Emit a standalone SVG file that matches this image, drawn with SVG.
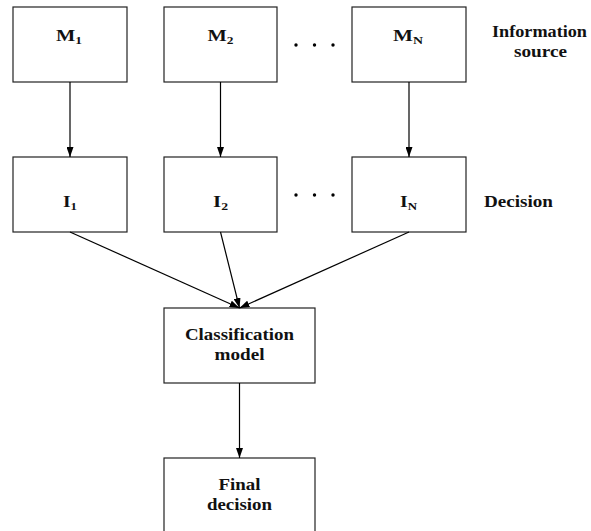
<svg xmlns="http://www.w3.org/2000/svg" width="591" height="531" viewBox="0 0 591 531">
  <style>
    .box { fill: #fff; stroke: #222; stroke-width: 1.2; }
    .lbl { font-family: 'Liberation Serif', 'DejaVu Serif', serif; font-weight: bold; font-size: 16px; fill: #111; text-anchor: middle; }
    .sub { font-size: 10.5px; }
    .edge { stroke: #000; stroke-width: 1.2; fill: none; marker-end: url(#arrow); }
    .dot { fill: #000; }
  </style>
  <defs>
    <marker id="arrow" markerUnits="userSpaceOnUse" markerWidth="10" markerHeight="7" refX="10" refY="3.5" orient="auto">
      <path d="M0,0 L10,3.5 L0,7 z" fill="#000"/>
    </marker>
  </defs>

  <rect x="0" y="0" width="591" height="531" fill="#fff"/>

  <!-- information sources -->
  <g id="m1">
    <rect class="box" x="13" y="7" width="114" height="75"/>
    <text class="lbl" x="69" y="41" textLength="26" lengthAdjust="spacingAndGlyphs">M<tspan class="sub" dy="3">1</tspan></text>
  </g>
  <g id="m2">
    <rect class="box" x="164" y="7" width="113" height="75"/>
    <text class="lbl" x="220.5" y="41" textLength="26" lengthAdjust="spacingAndGlyphs">M<tspan class="sub" dy="3">2</tspan></text>
  </g>
  <g id="mn">
    <rect class="box" x="352" y="7" width="114" height="75"/>
    <text class="lbl" x="408" y="41" textLength="30" lengthAdjust="spacingAndGlyphs">M<tspan class="sub" dy="3">N</tspan></text>
  </g>

  <!-- decisions -->
  <g id="i1">
    <rect class="box" x="13" y="157" width="114" height="75"/>
    <text class="lbl" x="70" y="207" textLength="14" lengthAdjust="spacingAndGlyphs">I<tspan class="sub" dy="3">1</tspan></text>
  </g>
  <g id="i2">
    <rect class="box" x="164" y="157" width="113" height="75"/>
    <text class="lbl" x="220.5" y="207" textLength="15" lengthAdjust="spacingAndGlyphs">I<tspan class="sub" dy="3">2</tspan></text>
  </g>
  <g id="in">
    <rect class="box" x="352" y="157" width="114" height="75"/>
    <text class="lbl" x="408.5" y="207" textLength="17" lengthAdjust="spacingAndGlyphs">I<tspan class="sub" dy="3">N</tspan></text>
  </g>

  <!-- fusion -->
  <g id="classification">
    <rect class="box" x="164" y="308" width="151" height="75"/>
    <text class="lbl" x="239.5" y="340" textLength="109" lengthAdjust="spacingAndGlyphs">Classification</text>
    <text class="lbl" x="239.5" y="360" textLength="50" lengthAdjust="spacingAndGlyphs">model</text>
  </g>
  <g id="final">
    <rect class="box" x="164" y="458" width="151" height="75"/>
    <text class="lbl" x="239.5" y="490" textLength="42" lengthAdjust="spacingAndGlyphs">Final</text>
    <text class="lbl" x="239.5" y="510" textLength="65" lengthAdjust="spacingAndGlyphs">decision</text>
  </g>

  <!-- row captions -->
  <g id="caption-source">
    <text class="lbl" x="539.5" y="37" textLength="95" lengthAdjust="spacingAndGlyphs">Information</text>
    <text class="lbl" x="540.5" y="57" textLength="53" lengthAdjust="spacingAndGlyphs">source</text>
  </g>
  <g id="caption-decision">
    <text class="lbl" x="518.5" y="207" textLength="69" lengthAdjust="spacingAndGlyphs">Decision</text>
  </g>

  <!-- ellipses between columns -->
  <g id="ellipsis">
    <circle class="dot" cx="296" cy="45" r="1.7"/>
    <circle class="dot" cx="314.5" cy="45" r="1.7"/>
    <circle class="dot" cx="333" cy="45" r="1.7"/>
    <circle class="dot" cx="296" cy="195" r="1.7"/>
    <circle class="dot" cx="314.5" cy="195" r="1.7"/>
    <circle class="dot" cx="333" cy="195" r="1.7"/>
  </g>

  <g id="connectors">
    <line class="edge" x1="70" y1="82" x2="70" y2="157"/>
    <line class="edge" x1="220.5" y1="82" x2="220.5" y2="157"/>
    <line class="edge" x1="409" y1="82" x2="409" y2="157"/>
    <line class="edge" x1="70" y1="232" x2="239.5" y2="308"/>
    <line class="edge" x1="220.5" y1="232" x2="239.5" y2="308"/>
    <line class="edge" x1="409" y1="232" x2="239.5" y2="308"/>
    <line class="edge" x1="239.5" y1="383" x2="239.5" y2="458"/>
  </g>
</svg>
